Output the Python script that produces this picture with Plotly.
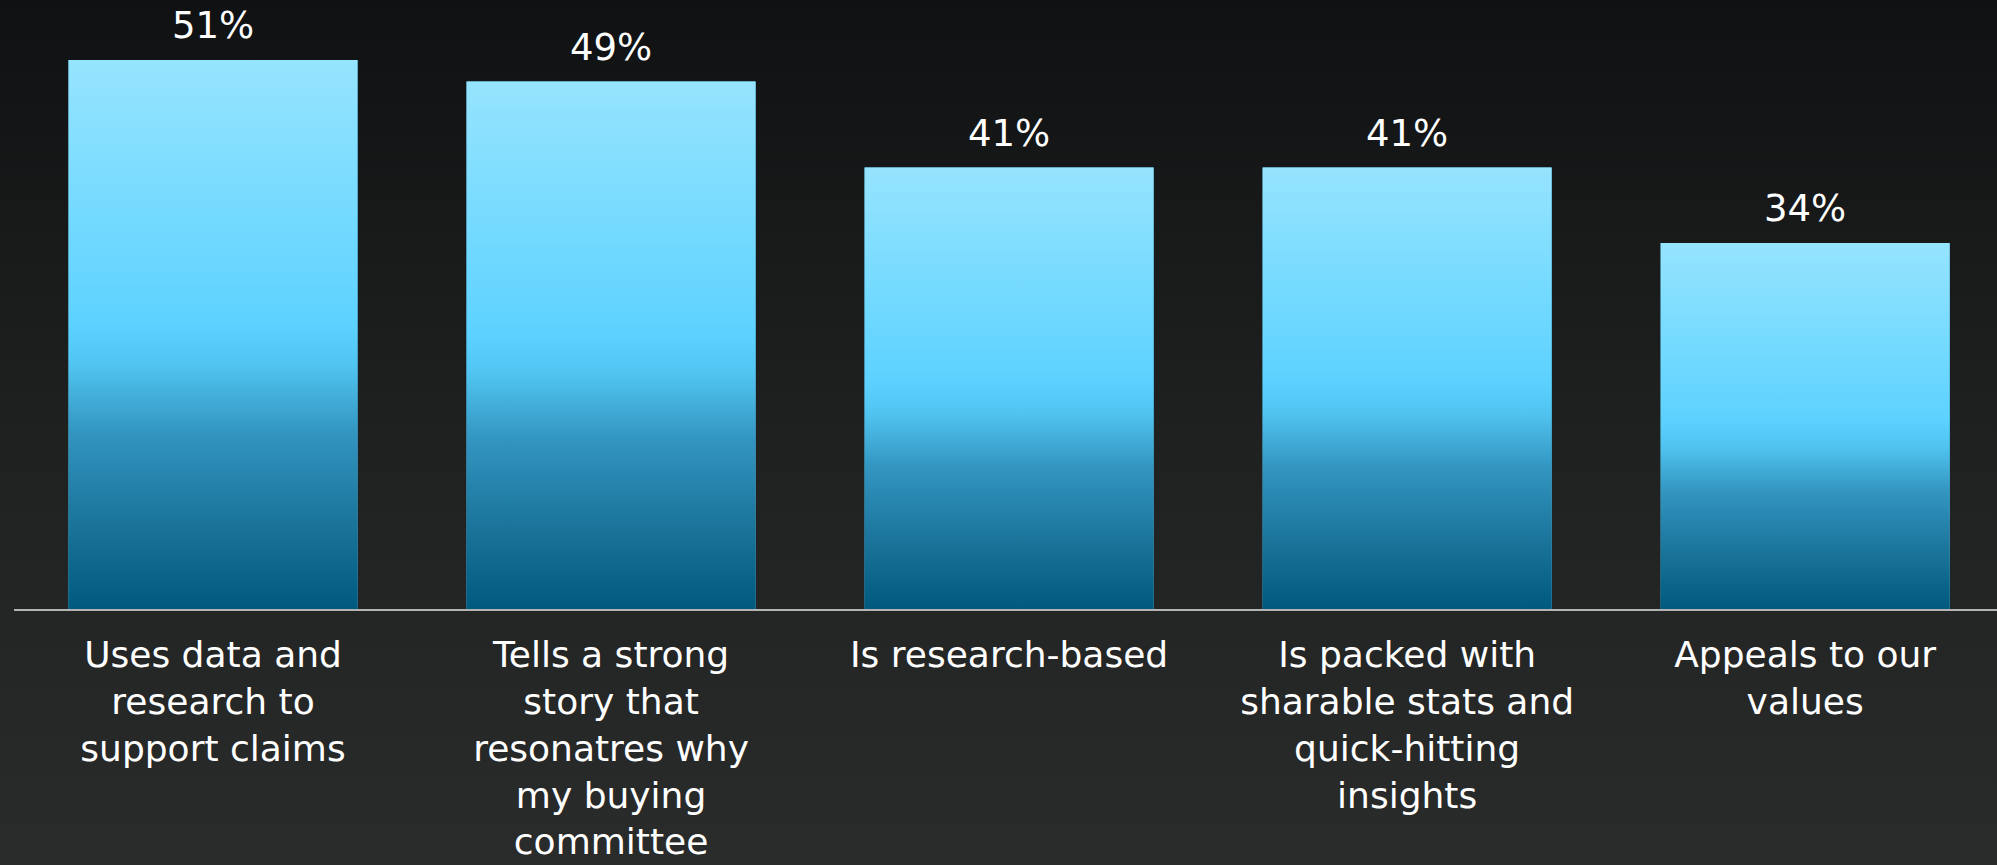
import plotly.graph_objects as go

categories = [
    "Uses data and<br>research to<br>support claims",
    "Tells a strong<br>story that<br>resonatres why<br>my buying<br>committee",
    "Is research-based",
    "Is packed with<br>sharable stats and<br>quick-hitting<br>insights",
    "Appeals to our<br>values",
]
values = [51, 49, 41, 41, 34]
value_labels = ["51%", "49%", "41%", "41%", "34%"]

W, H = 1997, 865
FONT = "DejaVu Sans"
bar_w = 0.726
idx = list(range(len(values)))

bar_scale = [
    [0.0, "#005a80"],
    [0.15, "#1a7399"],
    [0.32, "#3295c0"],
    [0.45, "#52c6f2"],
    [0.52, "#5dd2ff"],
    [0.75, "#78dbff"],
    [1.0, "#96e4fe"],
]

fig = go.Figure()

# background gradient (full paper)
fig.add_trace(go.Scatter(
    x=[0, 1, 1, 0, 0], y=[0, 0, 1, 1, 0], mode="lines", fill="toself",
    line=dict(width=0), fillgradient=dict(type="vertical",
    colorscale=[[0, "#2a2b2b"], [0.5, "#1f2020"], [1, "#101112"]]),
    hoverinfo="skip", showlegend=False, xaxis="x", yaxis="y"))

# bars
fig.add_trace(go.Bar(
    x=idx, y=values, width=bar_w, marker=dict(color="#5dd2ff", line=dict(width=0)),
    hoverinfo="skip", showlegend=False, xaxis="x2", yaxis="y2"))

# gradient overlay per bar
for k, v in zip(idx, values):
    fig.add_trace(go.Scatter(
        x=[k - bar_w / 2, k + bar_w / 2, k + bar_w / 2, k - bar_w / 2, k - bar_w / 2],
        y=[0, 0, v, v, 0], mode="lines", fill="toself", line=dict(width=0),
        fillgradient=dict(type="vertical", colorscale=bar_scale),
        hoverinfo="skip", showlegend=False, xaxis="x2", yaxis="y2"))

# value labels
fig.add_trace(go.Scatter(
    x=idx, y=values, mode="markers+text", text=value_labels,
    textposition="top center", marker=dict(size=18, opacity=0),
    textfont=dict(family=FONT, size=37, color="#ffffff"), cliponaxis=False,
    hoverinfo="skip", showlegend=False, xaxis="x2", yaxis="y2"))

fig.update_layout(
    width=W, height=H, margin=dict(l=0, r=0, t=0, b=0, autoexpand=False),
    paper_bgcolor="#1c1d1e", plot_bgcolor="rgba(0,0,0,0)",
    showlegend=False,
    xaxis=dict(domain=[0, 1], range=[0, 1], visible=False, fixedrange=True,
               automargin=False),
    yaxis=dict(domain=[0, 1], range=[0, 1], visible=False, fixedrange=True,
               automargin=False),
    xaxis2=dict(domain=[14 / W, 1], range=[-0.5, 4.482], anchor="y2",
                tickmode="array", tickvals=idx, ticktext=categories,
                showgrid=False, zeroline=False, showline=True,
                linecolor="#b4b4b4", linewidth=2, ticks="",
                ticklabelstandoff=13, automargin=False,
                tickfont=dict(family=FONT, size=36, color="#ffffff"),
                tickangle=0),
    yaxis2=dict(domain=[(H - 609) / H, 1], range=[0, 56.57], anchor="x2",
                visible=False, showgrid=False, zeroline=False, automargin=False),
)

fig.write_html("out.html")
